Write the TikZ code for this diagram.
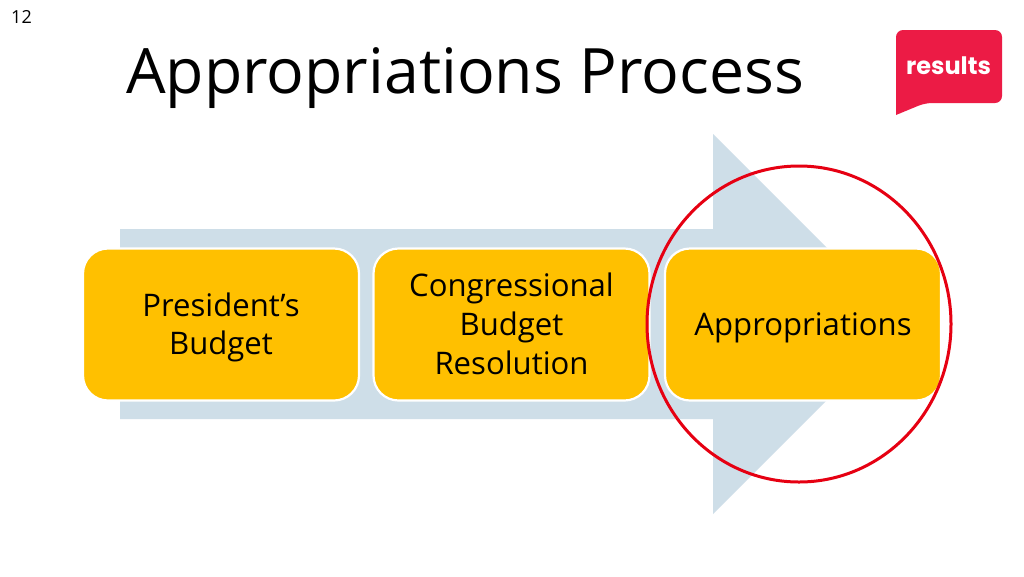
\documentclass[tikz,border=0pt]{standalone}
\usepackage{fontspec}
\setmainfont{Open Sans}
\newfontfamily\logofont{Poppins}
\definecolor{arrowblue}{HTML}{CEDEE8}
\definecolor{boxgold}{HTML}{FFC000}
\definecolor{ringred}{HTML}{E60012}
\definecolor{logored}{HTML}{EC1B45}
\newcommand\boxtext[1]{\raisebox{-9.5pt}[0pt][0pt]{\begin{tabular}[c]{@{}c@{}}#1\end{tabular}}}
\tikzset{
  stagebox/.style={draw=white,line width=2.2pt,fill=boxgold,rounded corners=25pt,minimum width=276pt,minimum height=152pt,inner sep=0pt,font=\fontsize{31.1}{38.6}\selectfont,text=black},
}
\begin{document}
\begin{tikzpicture}[x=1pt,y=-1pt]
\useasboundingbox (0,0) rectangle (1024,576);
\fill[white] (0,0) rectangle (1024,576);
\node[anchor=center,font=\fontsize{18}{22}\selectfont] (pagenum) at (21.5,17) {12};
\node[anchor=center,font=\fontsize{62.6}{76}\selectfont] (title) at (465,78) {Appropriations Process};
\fill[arrowblue] (120,229) -- (713,229) -- (713,134) -- (903,324) -- (713,514) -- (713,419) -- (120,419) -- cycle;
\node[stagebox] (b1) at (221,324.5) {\boxtext{President’s\\Budget}};
\node[stagebox] (b2) at (511.5,324.5) {\boxtext{Congressional\\Budget\\Resolution}};
\node[stagebox] (b3) at (803,324.5) {\boxtext{Appropriations}};
\draw[ringred,line width=3pt] (799,324) ellipse [x radius=152,y radius=158];
\fill[logored,rounded corners=7pt] (896,115) -- (896,30) -- (1002,30) -- (1002,103) -- (925,103) [sharp corners] -- cycle;
\node[text=white,font=\logofont\bfseries\fontsize{24}{30}\selectfont] (logo) at (948.5,65.5) {results};
\end{tikzpicture}
\end{document}
